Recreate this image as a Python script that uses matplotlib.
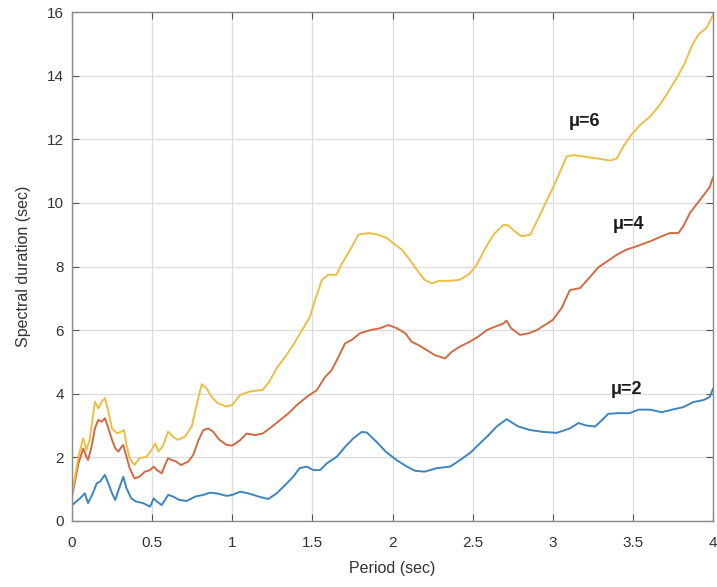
import matplotlib
matplotlib.use("Agg")
import matplotlib.pyplot as plt

# periodo (sec) y duracion espectral (sec)
periodo_mu2 = [0, .05, .08, .10, .13, .154, .175, .206, .227, .25, .27, .29, .32, .34, .37,
               .40, .445, .487, .51, .53, .56, .60, .63, .67, .716, .77, .82, .86, .90, .965,
               1.0, 1.049, 1.1, 1.163, 1.225, 1.277, 1.33, 1.38, 1.42, 1.465, 1.506, 1.548,
               1.59, 1.652, 1.704, 1.756, 1.808, 1.84, 1.9, 1.96, 2.027, 2.09, 2.14, 2.2,
               2.275, 2.36, 2.42, 2.484, 2.546, 2.6, 2.65, 2.712, 2.785, 2.858, 2.94, 3.024,
               3.107, 3.16, 3.21, 3.264, 3.305, 3.347, 3.41, 3.48, 3.535, 3.607, 3.68, 3.753,
               3.815, 3.878, 3.94, 3.98, 4.0]
duracion_mu2 = [.5, .71, .87, .56, .87, 1.18, 1.24, 1.45, 1.18, .87, .66, .97, 1.39, 1.03, .71,
                .61, .56, .45, .71, .61, .5, .82, .77, .66, .63, .77, .82, .89, .87, .79,
                .82, .92, .87, .77, .69, .87, 1.13, 1.39, 1.66, 1.71, 1.6, 1.6,
                1.81, 2.02, 2.33, 2.6, 2.8, 2.78, 2.49, 2.17, 1.91, 1.71, 1.58, 1.55,
                1.66, 1.71, 1.91, 2.14, 2.44, 2.7, 2.97, 3.2, 2.97, 2.86, 2.8, 2.77,
                2.91, 3.08, 3.0, 2.97, 3.16, 3.37, 3.39, 3.39, 3.5, 3.5, 3.42, 3.51,
                3.58, 3.74, 3.8, 3.9, 4.16]

periodo_mu4 = [0, .04, .07, .09, .10, .12, .143, .164, .185, .206, .227, .25, .27, .29, .31,
               .32, .34, .36, .39, .42, .455, .487, .51, .53, .56, .58, .60, .62, .65, .68,
               .726, .757, .79, .82, .85, .88, .92, .965, 1.0, 1.049, 1.09, 1.142, 1.19,
               1.246, 1.298, 1.35, 1.402, 1.465, 1.527, 1.58, 1.62, 1.652, 1.704, 1.745,
               1.797, 1.86, 1.923, 1.975, 2.027, 2.08, 2.12, 2.162, 2.214, 2.266, 2.328,
               2.37, 2.42, 2.484, 2.536, 2.588, 2.64, 2.69, 2.712, 2.74, 2.796, 2.85, 2.9,
               2.95, 3.0, 3.055, 3.107, 3.17, 3.22, 3.284, 3.336, 3.4, 3.46, 3.52, 3.607,
               3.68, 3.73, 3.784, 3.815, 3.857, 3.92, 3.98, 4.0]
duracion_mu4 = [.77, 1.81, 2.28, 2.02, 1.92, 2.28, 2.91, 3.18, 3.12, 3.23, 2.91, 2.55, 2.28, 2.18, 2.34,
                2.39, 2.02, 1.66, 1.34, 1.39, 1.55, 1.6, 1.71, 1.6, 1.5, 1.76, 1.97, 1.92, 1.87, 1.76,
                1.87, 2.08, 2.55, 2.86, 2.91, 2.81, 2.55, 2.39, 2.37, 2.54, 2.75, 2.7, 2.75,
                2.96, 3.17, 3.38, 3.64, 3.9, 4.11, 4.53, 4.74, 5.05, 5.58, 5.69,
                5.9, 6.0, 6.06, 6.16, 6.06, 5.9, 5.63, 5.53, 5.37, 5.21, 5.11,
                5.32, 5.48, 5.64, 5.8, 6.0, 6.11, 6.2, 6.3, 6.06, 5.85, 5.9, 6.0,
                6.16, 6.32, 6.69, 7.26, 7.32, 7.6, 7.97, 8.15, 8.37, 8.53, 8.63, 8.79,
                8.95, 9.05, 9.05, 9.27, 9.69, 10.1, 10.5, 10.8]

periodo_mu6 = [0, .04, .07, .09, .11, .143, .164, .185, .206, .227, .25, .28, .31, .325, .34,
               .36, .39, .42, .466, .497, .52, .54, .57, .60, .63, .66, .705, .747, .78, .81,
               .84, .87, .91, .965, 1.0, 1.049, 1.11, 1.19, 1.23, 1.277, 1.33, 1.38, 1.43,
               1.485, 1.517, 1.56, 1.6, 1.65, 1.68, 1.735, 1.787, 1.85, 1.91, 1.964, 2.005,
               2.06, 2.109, 2.16, 2.2, 2.245, 2.29, 2.36, 2.42, 2.48, 2.525, 2.58, 2.63,
               2.69, 2.72, 2.764, 2.805, 2.86, 2.91, 2.96, 3.004, 3.05, 3.087, 3.128, 3.19,
               3.27, 3.36, 3.40, 3.44, 3.49, 3.545, 3.607, 3.66, 3.71, 3.773, 3.825, 3.867,
               3.91, 3.96, 4.0]
duracion_mu6 = [.87, 2.02, 2.6, 2.23, 2.55, 3.75, 3.54, 3.75, 3.86, 3.44, 2.91, 2.76, 2.81, 2.86, 2.39,
                1.97, 1.76, 1.97, 2.02, 2.23, 2.44, 2.18, 2.39, 2.81, 2.65, 2.55, 2.65, 2.97, 3.7, 4.3,
                4.17, 3.91, 3.7, 3.6, 3.65, 3.96, 4.07, 4.12, 4.37, 4.8, 5.16, 5.53, 5.95,
                6.42, 6.95, 7.58, 7.74, 7.74, 8.05, 8.52, 9.0, 9.05, 9.0, 8.9, 8.73,
                8.52, 8.2, 7.84, 7.58, 7.47, 7.55, 7.55, 7.58, 7.77, 8.05, 8.58, 9.0,
                9.3, 9.3, 9.1, 8.95, 9.0, 9.52, 10.05, 10.5, 11.03, 11.46, 11.5, 11.46,
                11.4, 11.33, 11.4, 11.77, 12.14, 12.45, 12.71, 13.03, 13.4, 13.92, 14.4, 14.93,
                15.3, 15.5, 15.9]

etiquetas = ["\u03bc=2", "\u03bc=4", "\u03bc=6"]
pos_etiquetas = [(3.46, 4.12), (3.47, 9.31), (3.2, 12.56)]
colores = ["#3d85bf", "#d26a43", "#edbe45"]

plt.rcParams["font.family"] = ["Liberation Sans", "DejaVu Sans"]

fig = plt.figure(figsize=(7.17, 5.87), dpi=100)
ax = fig.add_axes([72 / 717, 1 - 521 / 587, 641 / 717, 509 / 587])

ax.plot(periodo_mu2, duracion_mu2, color=colores[0], linewidth=1.4)
ax.plot(periodo_mu4, duracion_mu4, color=colores[1], linewidth=1.4)
ax.plot(periodo_mu6, duracion_mu6, color=colores[2], linewidth=1.4)

for texto, (x, y) in zip(etiquetas, pos_etiquetas):
    ax.text(x, y, texto, fontsize=13, fontweight="bold", color="#1a1a1a",
            ha="center", va="center")

ax.set_xlim(0, 4)
ax.set_ylim(0, 16)
ax.set_xticks([0, 0.5, 1, 1.5, 2, 2.5, 3, 3.5, 4])
ax.set_xticklabels(["0", "0.5", "1", "1.5", "2", "2.5", "3", "3.5", "4"])
ax.set_yticks(range(0, 17, 2))
ax.grid(True, color="#dcdcdc", linewidth=0.9)
ax.set_axisbelow(True)
for s in ax.spines.values():
    s.set_color("#8a8a8a")
    s.set_linewidth(1.0)
ax.tick_params(direction="in", length=5, width=0.8, color="#555555",
               top=True, right=True, labelsize=11, labelcolor="#333333")
ax.tick_params(axis="x", pad=11)
ax.tick_params(axis="y", pad=6)
ax.set_xlabel("Period (sec)", fontsize=11.5, color="#333333", labelpad=8)
ax.set_ylabel("Spectral duration (sec)", fontsize=11.5, color="#333333", labelpad=11)

fig.savefig("out.png", dpi=100)
